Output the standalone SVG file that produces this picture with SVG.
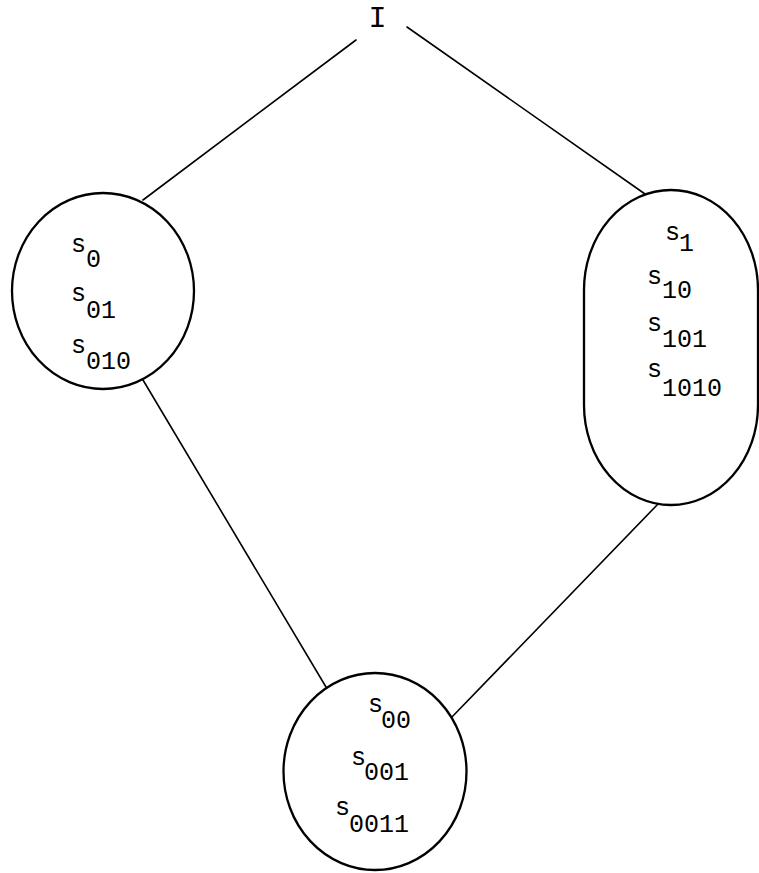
<svg xmlns="http://www.w3.org/2000/svg" width="759" height="873" viewBox="0 0 759 873">
  <style>
    .edge { stroke: #000; stroke-width: 1.6; fill: none; stroke-linecap: round; }
    .node { stroke: #000; stroke-width: 2.3; fill: #fff; }
    .s { font-family: "Liberation Mono", "Courier New", monospace; font-size: 25px; fill: #000; }
    .sub { font-family: "Liberation Mono", "Courier New", monospace; font-size: 25px; fill: #000; }
    .top { font-family: "Liberation Mono", "Courier New", monospace; font-size: 30px; fill: #000; text-anchor: middle; }
  </style>
  <rect width="759" height="873" fill="#fff"/>

  <!-- connectors -->
  <g id="edges">
    <line class="edge" x1="356" y1="40" x2="143" y2="200"/>
    <line class="edge" x1="407" y1="27" x2="645" y2="194"/>
    <line class="edge" x1="143" y1="380" x2="326" y2="687"/>
    <line class="edge" x1="658" y1="504" x2="451" y2="718"/>
  </g>

  <!-- root -->
  <g id="node-I">
    <text class="top" x="377.5" y="27">I</text>
  </g>

  <!-- left class -->
  <g id="node-s0">
    <ellipse class="node" cx="103" cy="291" rx="91" ry="98"/>
    <text class="s" x="71" y="252">s</text><text class="sub" x="86" y="267">0</text>
    <text class="s" x="71" y="301">s</text><text class="sub" x="86" y="318">01</text>
    <text class="s" x="71" y="353">s</text><text class="sub" x="86" y="369">010</text>
  </g>

  <!-- right class -->
  <g id="node-s1">
    <rect class="node" x="584" y="190" width="174" height="315" rx="87" ry="100"/>
    <text class="s" x="665" y="240">s</text><text class="sub" x="679" y="251">1</text>
    <text class="s" x="647" y="284">s</text><text class="sub" x="662" y="298">10</text>
    <text class="s" x="647" y="331">s</text><text class="sub" x="662" y="347">101</text>
    <text class="s" x="647" y="377">s</text><text class="sub" x="662" y="396">1010</text>
  </g>

  <!-- bottom class -->
  <g id="node-s00">
    <ellipse class="node" cx="375" cy="771.5" rx="91.5" ry="98.5"/>
    <text class="s" x="368" y="712">s</text><text class="sub" x="381" y="728">00</text>
    <text class="s" x="351" y="765">s</text><text class="sub" x="364" y="780">001</text>
    <text class="s" x="335" y="815">s</text><text class="sub" x="349" y="832">0011</text>
  </g>
</svg>
